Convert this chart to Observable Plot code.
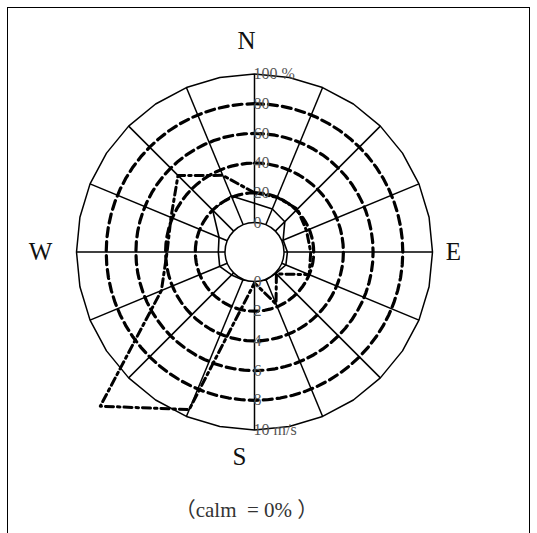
<!DOCTYPE html>
<html>
<head>
<meta charset="utf-8">
<script src="https://cdn.jsdelivr.net/npm/d3@7"></script>
<script src="https://cdn.jsdelivr.net/npm/@observablehq/plot@0.6"></script>
<style>
  html, body { margin: 0; padding: 0; background: #fff; }
  #wrap { position: relative; width: 537px; height: 533px; overflow: hidden; }
  #border { position: absolute; left: 7px; top: 7px; width: 521px; height: 600px; border: 1.5px solid #000; pointer-events: none; }
  #wrap svg { position: absolute; left: 0; top: 0; }
</style>
</head>
<body>
<div id="wrap"><div id="border"></div></div>
<script>
// ---- data ----
const directions = ["N","NNE","NE","ENE","E","ESE","SE","SSE","S","SSW","SW","WSW","W","WNW","NW","NNW"];
const frequency = [13, 11.5, 9, 1, 2.3, 3, 0.5, 0.5, 0, 0.5, 2, 5.5, 4.5, 6, 20, 21];      // %
const speed     = [2.0, 2.0, 2.1, 1.8, 1.8, 2.0, 0.1, 1.8, 0.1, 9.5, 12.7, 4.8, 3.9, 4.1, 5.3, 3.6]; // m/s
const freqTicks = [0, 20, 40, 60, 80, 100];
const freqTickLabels = ["0", "20", "40", "60", "80", "100 %"];
const speedTicks = [0, 2, 4, 6, 8, 10];
const speedTickLabels = ["0", "2", "4", "6", "8", "10 m/s"];
const ringLevels = [20, 40, 60, 80];
const compassLabels = ["N", "E", "S", "W"];
const calmText = "（calm  = 0% ）";

// ---- geometry helpers ----
const r0 = 29.5, R = 178;
const radF = v => r0 + v / 100 * (R - r0);
const radS = s => r0 + s / 10 * (R - r0);
const ang = i => i * 22.5 * Math.PI / 180;
const px = (r, a) => r * Math.sin(a);
const py = (r, a) => r * Math.cos(a);

const freqPts = directions.map((d, i) => ({d, x: px(radF(frequency[i]), ang(i)), y: py(radF(frequency[i]), ang(i))}));
const speedPts = directions.map((d, i) => ({d, x: px(radS(speed[i]), ang(i)), y: py(radS(speed[i]), ang(i))}));
const spokes = directions.map((d, i) => ({d, x1: px(r0, ang(i)), y1: py(r0, ang(i)), x2: px(R, ang(i)), y2: py(R, ang(i))}));
const outerPts = d3.range(32).map(k => { const a = k * 11.25 * Math.PI / 180; return {x: px(R, a), y: py(R, a)}; });
const ringPts = ringLevels.flatMap(v => d3.range(72).map(k => { const a = k * 5 * Math.PI / 180; return {v, x: px(radF(v), a), y: py(radF(v), a)}; }));
const fTicks = freqTicks.map((v, i) => ({label: freqTickLabels[i], x: 0, y: radF(v)}));
const sTicks = speedTicks.map((v, i) => ({label: speedTickLabels[i], x: 0, y: -radS(v)}));
const compass = [
  {label: compassLabels[0], x: -8, y: R + 33},
  {label: compassLabels[1], x: R + 21, y: 0},
  {label: compassLabels[2], x: -15, y: -(R + 27)},
  {label: compassLabels[3], x: -(R + 36), y: 0}
];

const serif = "'Liberation Serif', 'DejaVu Serif', 'Noto Sans CJK JP', serif";

const chart = Plot.plot({
  width: 537,
  height: 533,
  margin: 0,
  x: {domain: [-254, 283], axis: null},
  y: {domain: [-281.5, 251.5], axis: null},
  style: {background: "transparent"},
  marks: [
    Plot.line(outerPts, {x: "x", y: "y", curve: "linear-closed", stroke: "#000", strokeWidth: 1.5, fill: "white"}),
    Plot.link(spokes, {x1: "x1", y1: "y1", x2: "x2", y2: "y2", stroke: "#000", strokeWidth: 1.5}),
    Plot.line(ringPts, {x: "x", y: "y", z: "v", curve: "linear-closed", stroke: "#000", strokeWidth: 3.2, strokeDasharray: "9,5"}),
    Plot.line(freqPts, {x: "x", y: "y", curve: "linear-closed", stroke: "#000", strokeWidth: 1.6}),
    Plot.line(speedPts, {x: "x", y: "y", curve: "linear-closed", stroke: "#000", strokeWidth: 3, strokeDasharray: "8,4,2.5,4"}),
    Plot.dot([{x: 0, y: 0}], {x: "x", y: "y", r: r0, fill: "white", stroke: "#000", strokeWidth: 1.5}),
    Plot.text(fTicks, {x: "x", y: "y", text: "label", textAnchor: "start", dx: -1, fill: "#555", fontSize: 16, fontFamily: serif}),
    Plot.text(sTicks, {x: "x", y: "y", text: "label", textAnchor: "start", dx: -1, fill: "#555", fontSize: 16, fontFamily: serif}),
    Plot.text(compass, {x: "x", y: "y", text: "label", fill: "#111", fontSize: 25, fontFamily: serif}),
    Plot.text([{label: calmText, x: -8, y: -258.5}], {x: "x", y: "y", text: "label", fill: "#333", fontSize: 21, fontFamily: serif})
  ]
});
document.getElementById("wrap").appendChild(chart);
</script>
</body>
</html>
